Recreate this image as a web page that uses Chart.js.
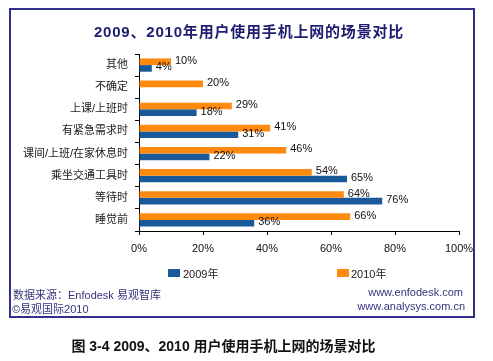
<!DOCTYPE html>
<html><head><meta charset="utf-8">
<script src="https://cdn.jsdelivr.net/npm/chart.js@4/dist/chart.umd.min.js"></script>
<style>
html,body{margin:0;padding:0;background:#fff;width:493px;height:361px;overflow:hidden;}
body{position:relative;font-family:"Liberation Sans","Noto Sans CJK SC",sans-serif;}
#frame{position:absolute;left:9px;top:8px;width:462px;height:306px;border:2px solid #30308a;}
#c{position:absolute;left:0;top:0;}
.t{position:absolute;white-space:nowrap;}
#title{left:0;width:493px;text-align:center;top:20px;font-size:15px;font-weight:bold;color:#1c1c70;letter-spacing:0.8px;padding-left:5px;box-sizing:border-box;}
.lg{position:absolute;width:12px;height:8px;}
.lt{font-size:11px;color:#222;}
.ft{font-size:11px;color:#34347e;}
#cap{left:0;width:493px;text-align:center;top:335px;font-size:14px;font-weight:bold;color:#111;padding-right:46px;box-sizing:border-box;}
</style></head>
<body>
<div id="frame"></div>
<canvas id="c" width="493" height="361"></canvas>
<div class="t" id="title">2009、2010年用户使用手机上网的场景对比</div>
<div class="lg" style="left:168px;top:269px;background:#1b5a9a"></div>
<div class="t lt" style="left:183px;top:265px">2009年</div>
<div class="lg" style="left:337px;top:269px;background:#ff8a0d"></div>
<div class="t lt" style="left:351px;top:265px">2010年</div>
<div class="t ft" style="left:13px;top:286px">数据来源：Enfodesk 易观智库</div>
<div class="t ft" style="left:12px;top:300px">©易观国际2010</div>
<div class="t ft" style="right:30px;top:286px">www.enfodesk.com</div>
<div class="t ft" style="right:28px;top:300px">www.analysys.com.cn</div>
<div class="t" id="cap">图 3-4 2009、2010 用户使用手机上网的场景对比</div>
<script>
const categories = ["其他","不确定","上课/上班时","有紧急需求时","课间/上班/在家休息时","乘坐交通工具时","等待时","睡觉前"];
const values2009 = [4, null, 18, 31, 22, 65, 76, 36];
const values2010 = [10, 20, 29, 41, 46, 54, 64, 66];
const xTicks = [0, 20, 40, 60, 80, 100];
const seriesNames = ["2009年","2010年"];

const FONT = '"Liberation Sans","Noto Sans CJK SC",sans-serif';
const labelPlugin = {
  id: 'valueLabels',
  afterDatasetsDraw(chart) {
    const ctx = chart.ctx;
    ctx.save();
    ctx.font = '11px ' + FONT;
    ctx.fillStyle = '#111';
    ctx.textBaseline = 'middle';
    ctx.textAlign = 'left';
    chart.data.datasets.forEach((ds, di) => {
      const meta = chart.getDatasetMeta(di);
      meta.data.forEach((el, i) => {
        const v = ds.data[i];
        if (v === null || v === undefined) return;
        ctx.fillText(v + '%', el.x + 4, el.y - 1);
      });
    });
    ctx.restore();
  }
};

new Chart(document.getElementById('c'), {
  type: 'bar',
  data: {
    labels: categories,
    datasets: [
      { label: seriesNames[1], data: values2010, backgroundColor: '#ff8a0d', categoryPercentage: 0.6, barPercentage: 1 },
      { label: seriesNames[0], data: values2009, backgroundColor: '#1b5a9a', categoryPercentage: 0.6, barPercentage: 1 }
    ]
  },
  options: {
    indexAxis: 'y',
    responsive: false,
    animation: false,
    layout: { padding: { left: 12, right: 34, top: 54, bottom: 100 } },
    plugins: { legend: { display: false }, tooltip: { enabled: false } },
    scales: {
      x: {
        min: 0, max: 100,
        afterBuildTicks(s) { s.ticks = xTicks.map(v => ({ value: v })); },
        afterFit(s) { s.height = 30; },
        ticks: { callback: v => v + '%', color: '#111', font: { size: 11, family: FONT }, padding: 7, maxRotation: 0 },
        grid: { display: true, drawOnChartArea: false, drawTicks: true, tickLength: 4, color: '#000' },
        border: { color: '#000', width: 1 }
      },
      y: {
        afterFit(s) { s.width = 127; },
        ticks: { color: '#222', font: { size: 11, family: FONT }, padding: 7 },
        grid: { display: true, drawOnChartArea: false, drawTicks: true, tickLength: 4, color: '#000', offset: true },
        border: { color: '#000', width: 1 }
      }
    }
  },
  plugins: [labelPlugin]
});
</script>
</body></html>
